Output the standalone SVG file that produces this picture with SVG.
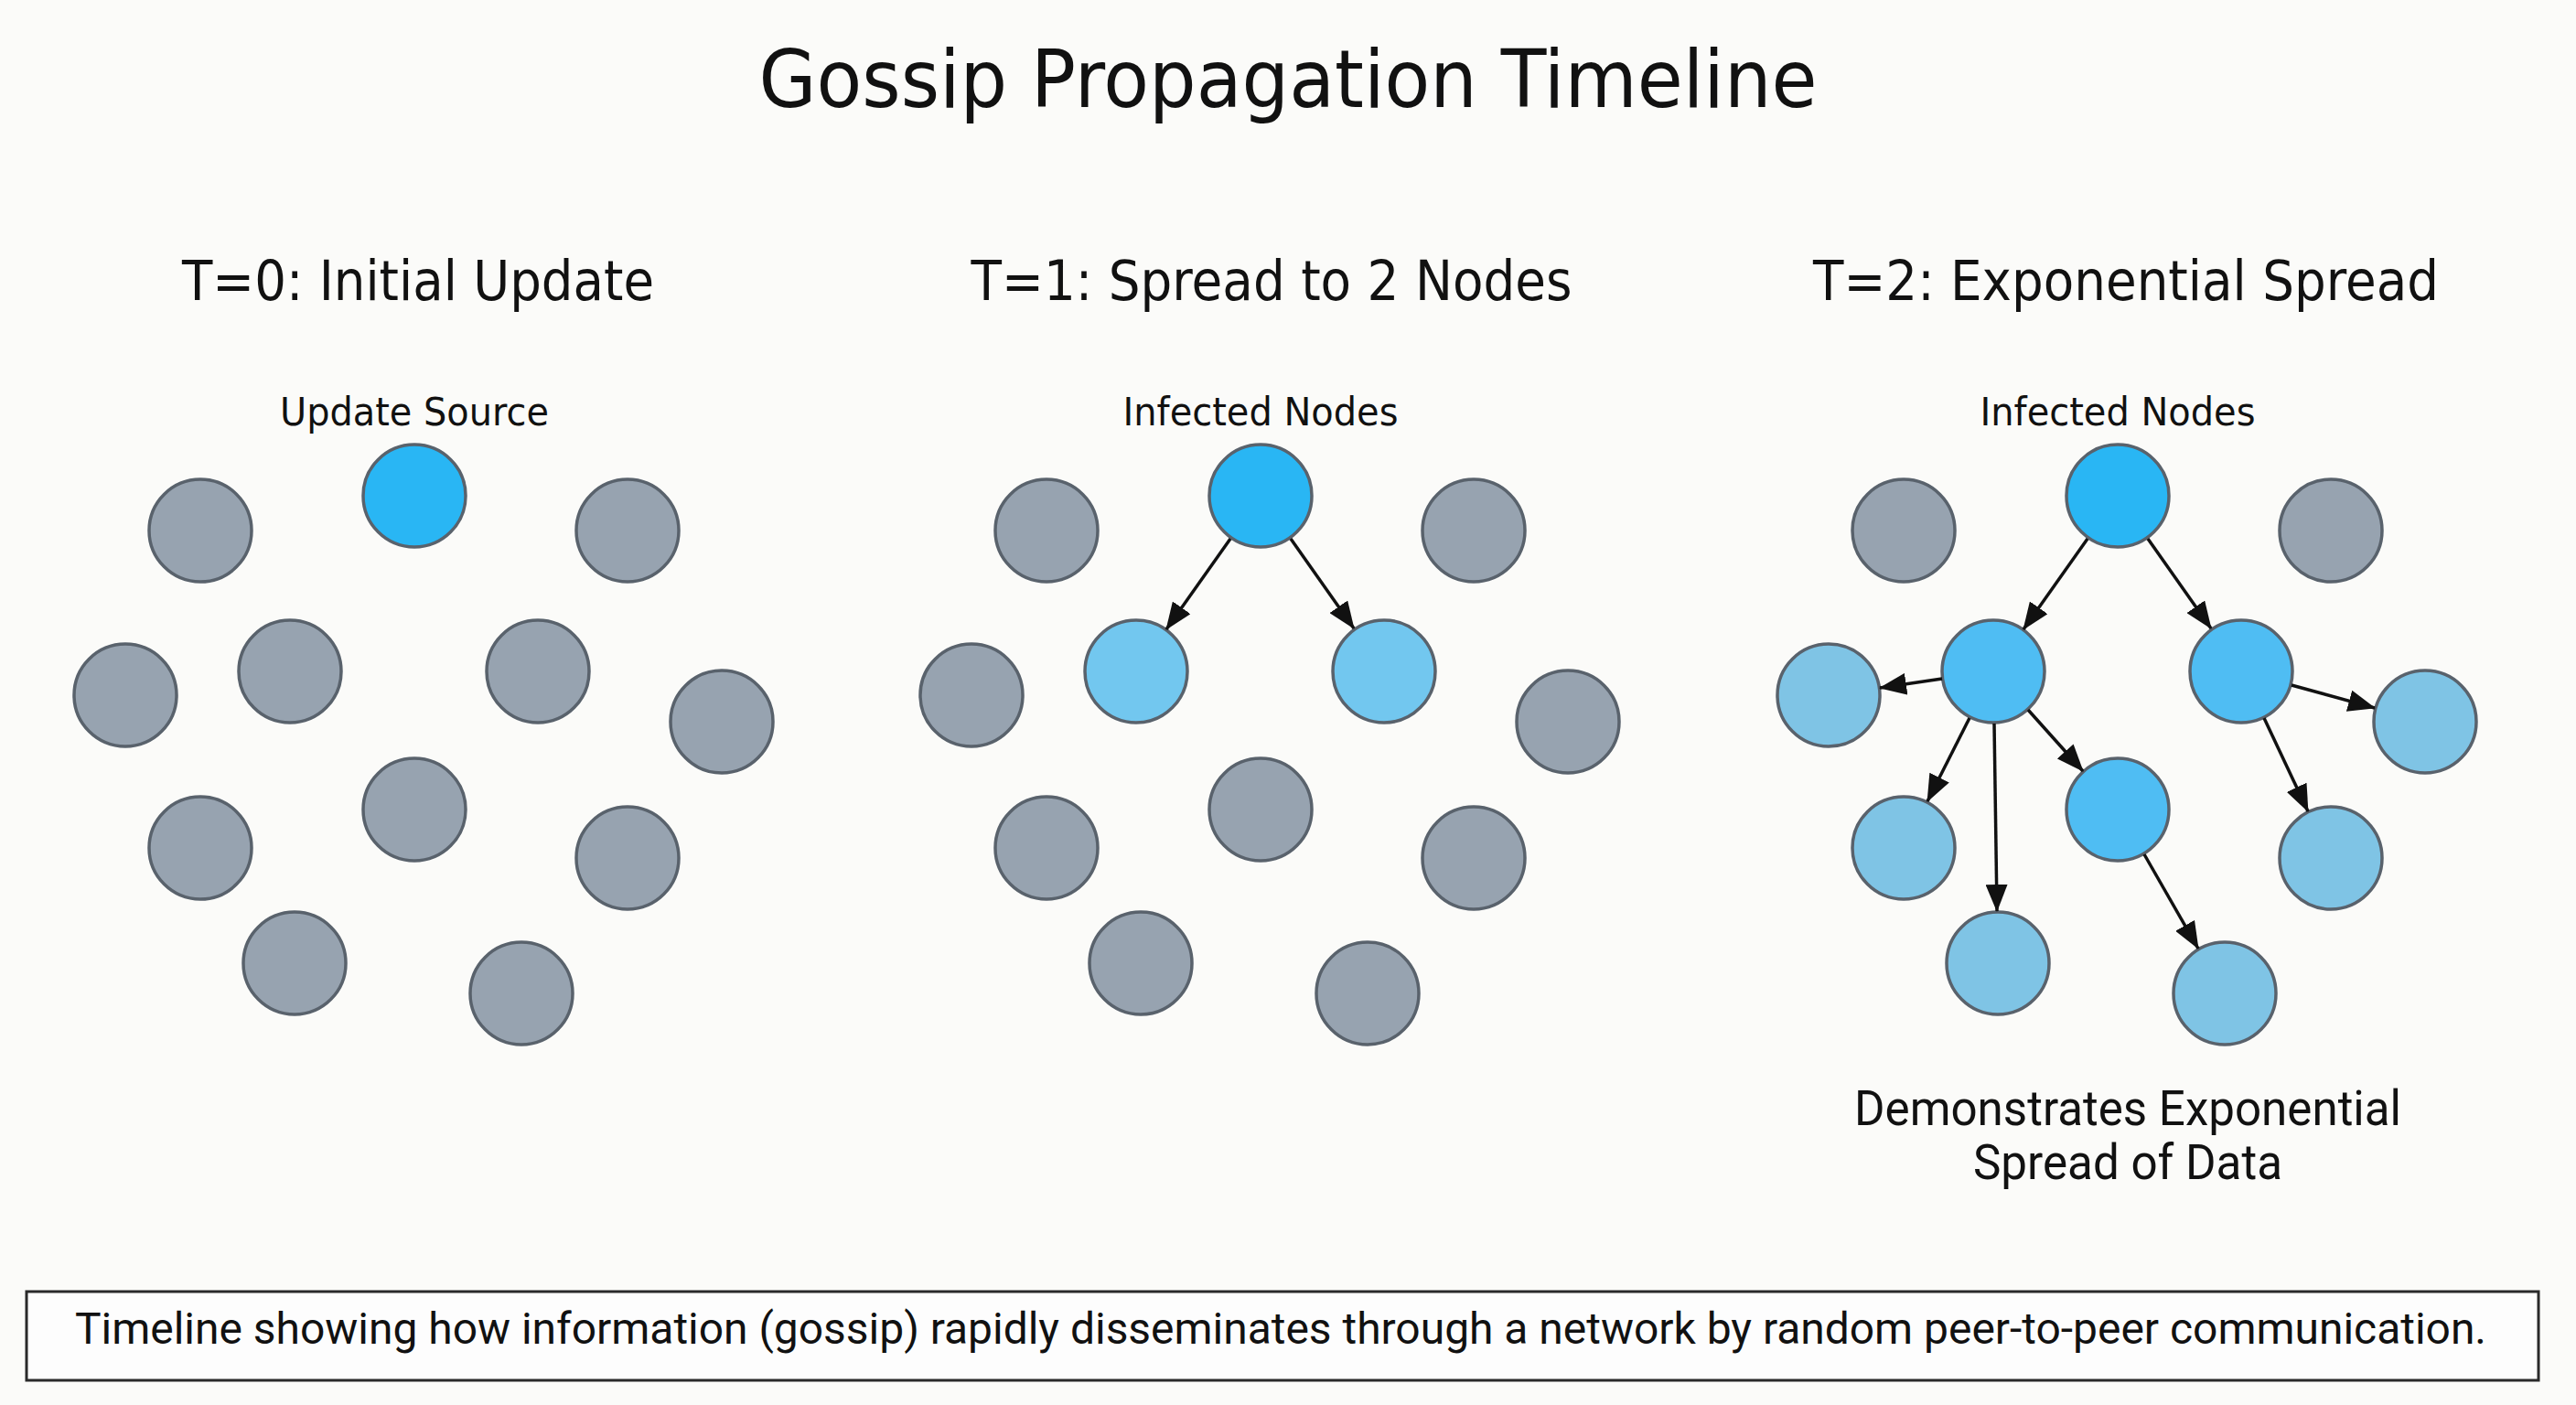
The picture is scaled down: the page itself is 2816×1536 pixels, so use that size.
<svg xmlns="http://www.w3.org/2000/svg" width="2816" height="1536" viewBox="0 0 2816 1536">
<style>
.bg{fill:#fbfbf9}
.n{stroke:#59626c;stroke-width:3.5}
.grey{fill:#97a3b0}
.src{fill:#29b6f4}
.l2{fill:#4fbdf3}
.l2b{fill:#72c7ef}
.l3{fill:#7fc4e5}
.dj{font-family:"DejaVu Sans","Liberation Sans",sans-serif;fill:#111;text-anchor:middle}
.rb{font-family:Roboto,"Liberation Sans",sans-serif;fill:#111;text-anchor:middle}
.edge{stroke:#111;stroke-width:3.5;fill:none;marker-end:url(#arrow)}
</style>
<defs>
<marker id="arrow" markerUnits="userSpaceOnUse" viewBox="0 0 30 24" refX="29" refY="12" markerWidth="30" markerHeight="24" orient="auto">
<path d="M0,0 L30,12 L0,24 z" fill="#111"/>
</marker>
</defs>
<rect class="bg" x="0" y="0" width="2816" height="1536"/>

<text class="dj" x="1408" y="117" font-size="88" textLength="1157" lengthAdjust="spacingAndGlyphs">Gossip Propagation Timeline</text>

<text class="dj" x="457" y="328" font-size="60" textLength="516" lengthAdjust="spacingAndGlyphs">T=0: Initial Update</text>
<text class="dj" x="1390" y="328" font-size="60" textLength="657" lengthAdjust="spacingAndGlyphs">T=1: Spread to 2 Nodes</text>
<text class="dj" x="2324" y="328" font-size="60" textLength="684" lengthAdjust="spacingAndGlyphs">T=2: Exponential Spread</text>

<text class="dj" x="453" y="465" font-size="43" textLength="294" lengthAdjust="spacingAndGlyphs">Update Source</text>
<text class="dj" x="1378" y="465" font-size="43" textLength="301" lengthAdjust="spacingAndGlyphs">Infected Nodes</text>
<text class="dj" x="2315" y="465" font-size="43" textLength="301" lengthAdjust="spacingAndGlyphs">Infected Nodes</text>

<!-- Panel 1 -->
<g id="p1">
<circle id="p1n1" class="n grey" cx="219" cy="580" r="56"/>
<circle id="p1n2" class="n src" cx="453" cy="542" r="56"/>
<circle id="p1n3" class="n grey" cx="686" cy="580" r="56"/>
<circle id="p1n4" class="n grey" cx="137" cy="760" r="56"/>
<circle id="p1n5" class="n grey" cx="317" cy="734" r="56"/>
<circle id="p1n6" class="n grey" cx="588" cy="734" r="56"/>
<circle id="p1n7" class="n grey" cx="789" cy="789" r="56"/>
<circle id="p1n8" class="n grey" cx="219" cy="927" r="56"/>
<circle id="p1n9" class="n grey" cx="453" cy="885" r="56"/>
<circle id="p1n10" class="n grey" cx="686" cy="938" r="56"/>
<circle id="p1n11" class="n grey" cx="322" cy="1053" r="56"/>
<circle id="p1n12" class="n grey" cx="570" cy="1086" r="56"/>
</g>

<!-- Panel 2 -->
<g id="p2">
<circle id="p2n1" class="n grey" cx="1144" cy="580" r="56"/>
<circle id="p2n2" class="n src" cx="1378" cy="542" r="56"/>
<circle id="p2n3" class="n grey" cx="1611" cy="580" r="56"/>
<circle id="p2n4" class="n grey" cx="1062" cy="760" r="56"/>
<circle id="p2n5" class="n l2b" cx="1242" cy="734" r="56"/>
<circle id="p2n6" class="n l2b" cx="1513" cy="734" r="56"/>
<circle id="p2n7" class="n grey" cx="1714" cy="789" r="56"/>
<circle id="p2n8" class="n grey" cx="1144" cy="927" r="56"/>
<circle id="p2n9" class="n grey" cx="1378" cy="885" r="56"/>
<circle id="p2n10" class="n grey" cx="1611" cy="938" r="56"/>
<circle id="p2n11" class="n grey" cx="1247" cy="1053" r="56"/>
<circle id="p2n12" class="n grey" cx="1495" cy="1086" r="56"/>
</g>

<!-- Panel 3 -->
<g id="p3">
<circle id="p3n1" class="n grey" cx="2081" cy="580" r="56"/>
<circle id="p3n2" class="n src" cx="2315" cy="542" r="56"/>
<circle id="p3n3" class="n grey" cx="2548" cy="580" r="56"/>
<circle id="p3n4" class="n l3" cx="1999" cy="760" r="56"/>
<circle id="p3n5" class="n l2" cx="2179" cy="734" r="56"/>
<circle id="p3n6" class="n l2" cx="2450" cy="734" r="56"/>
<circle id="p3n7" class="n l3" cx="2651" cy="789" r="56"/>
<circle id="p3n8" class="n l3" cx="2081" cy="927" r="56"/>
<circle id="p3n9" class="n l2" cx="2315" cy="885" r="56"/>
<circle id="p3n10" class="n l3" cx="2548" cy="938" r="56"/>
<circle id="p3n11" class="n l3" cx="2184" cy="1053" r="56"/>
<circle id="p3n12" class="n l3" cx="2432" cy="1086" r="56"/>
</g>

<g id="connectors">
<line class="edge" x1="1345" y1="589" x2="1275" y2="688"/>
<line class="edge" x1="1411" y1="589" x2="1480" y2="687"/>
<line class="edge" x1="2282" y1="589" x2="2212" y2="688"/>
<line class="edge" x1="2348" y1="589" x2="2417" y2="687"/>
<line class="edge" x1="2123" y1="742" x2="2055" y2="752"/>
<line class="edge" x1="2153" y1="785" x2="2107" y2="876"/>
<line class="edge" x1="2180" y1="791" x2="2183" y2="996"/>
<line class="edge" x1="2217" y1="776" x2="2277" y2="843"/>
<line class="edge" x1="2505" y1="749" x2="2596" y2="774"/>
<line class="edge" x1="2475" y1="785" x2="2523" y2="887"/>
<line class="edge" x1="2344" y1="934" x2="2403" y2="1037"/>
</g>

<text class="rb" x="2326" y="1230" font-size="54" textLength="598" lengthAdjust="spacingAndGlyphs">Demonstrates Exponential</text>
<text class="rb" x="2326" y="1289" font-size="54" textLength="338" lengthAdjust="spacingAndGlyphs">Spread of Data</text>

<g id="caption">
<rect x="29" y="1412" width="2746" height="97" fill="#fdfdfd" stroke="#2a2a2a" stroke-width="3"/>
<text class="rb" x="1400" y="1469" font-size="48" textLength="2636" lengthAdjust="spacingAndGlyphs">Timeline showing how information (gossip) rapidly disseminates through a network by random peer-to-peer communication.</text>
</g>
</svg>
